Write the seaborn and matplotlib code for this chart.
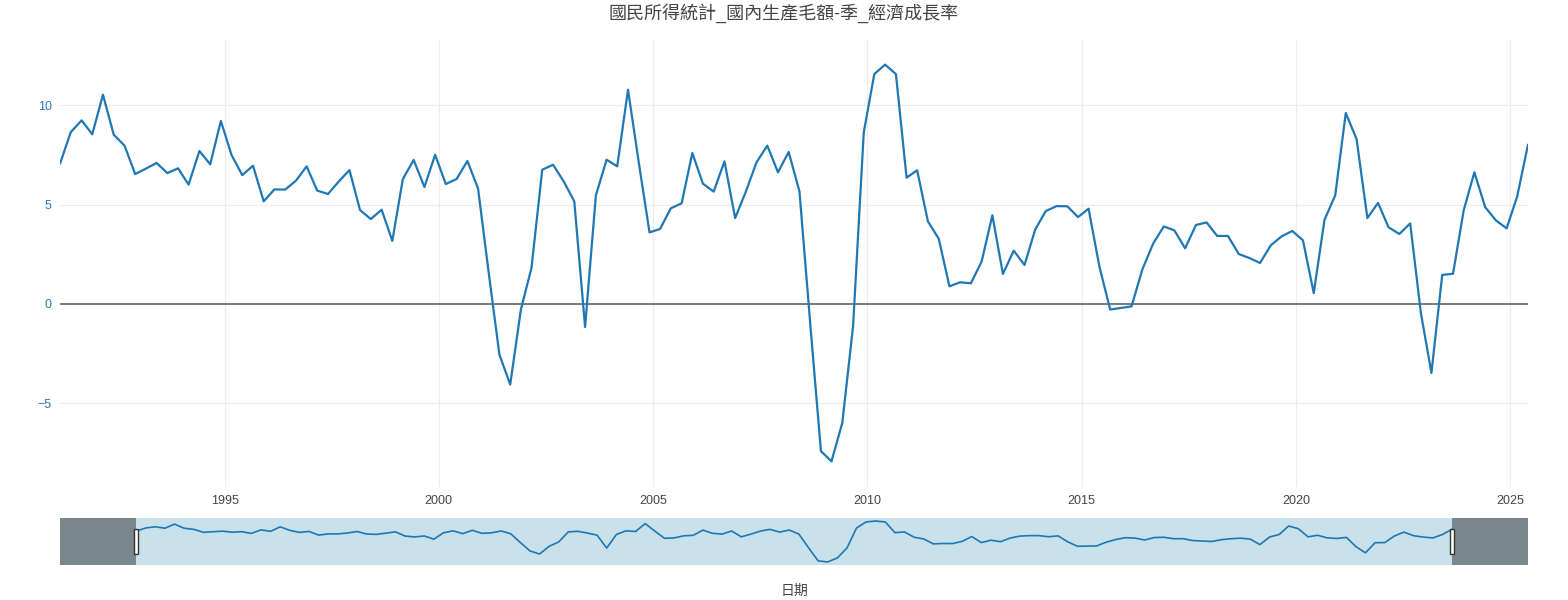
import pandas as pd
import numpy as np
import seaborn as sns
import matplotlib
matplotlib.use("Agg")
import matplotlib.pyplot as plt
import matplotlib.dates as mdates
from matplotlib.patches import Rectangle
from matplotlib.transforms import blended_transform_factory

# quarterly growth rate (%), 1991Q1 .. 2025Q2
growth = [
    7.05, 8.64, 9.23, 8.53,     # 1991
    10.52, 8.51, 7.96, 6.53,    # 1992
    6.80, 7.09, 6.58, 6.82,     # 1993
    6.00, 7.69, 7.02, 9.20,     # 1994
    7.50, 6.48, 6.95, 5.16,     # 1995
    5.76, 5.75, 6.20, 6.92,     # 1996
    5.70, 5.53, 6.16, 6.73,     # 1997
    4.72, 4.27, 4.74, 3.17,     # 1998
    6.28, 7.24, 5.88, 7.50,     # 1999
    6.03, 6.28, 7.19, 5.80,     # 2000
    1.60, -2.55, -4.05, -0.28,  # 2001
    1.81, 6.75, 7.00, 6.16,     # 2002
    5.16, -1.16, 5.46, 7.25,    # 2003
    6.92, 10.77, 7.10, 3.60,    # 2004
    3.77, 4.81, 5.06, 7.59,     # 2005
    6.05, 5.65, 7.17, 4.32,     # 2006
    5.63, 7.12, 7.96, 6.62,     # 2007
    7.64, 5.66, -1.00, -7.40,   # 2008
    -7.91, -5.98, -1.12, 8.63,  # 2009
    11.56, 12.03, 11.56, 6.35,  # 2010
    6.72, 4.15, 3.28, 0.89,     # 2011
    1.09, 1.04, 2.14, 4.46,     # 2012
    1.51, 2.68, 1.96, 3.74,     # 2013
    4.67, 4.92, 4.91, 4.37,     # 2014
    4.79, 1.89, -0.28, -0.20,   # 2015
    -0.12, 1.73, 3.03, 3.90,    # 2016
    3.70, 2.80, 3.97, 4.10,     # 2017
    3.42, 3.42, 2.51, 2.31,     # 2018
    2.06, 2.95, 3.40, 3.67,     # 2019
    3.20, 0.55, 4.24, 5.46,     # 2020
    9.60, 8.29, 4.32, 5.08,     # 2021
    3.85, 3.52, 4.05, -0.45,    # 2022
    -3.47, 1.46, 1.52, 4.71,    # 2023
    6.62, 4.87, 4.20, 3.80,     # 2024
    5.41, 8.01,                 # 2025
]
dates = pd.date_range("1991-03-01", periods=len(growth), freq="3MS")
yticks = [-5, 0, 5, 10]
ytick_labels = ["\u22125", "0", "5", "10"]

title = "國民所得統計_國內生產毛額-季_經濟成長率"
xlabel = "日期"

df = pd.DataFrame({"date": dates, "value": growth})

sns.set_theme(style="whitegrid")
plt.rcParams["font.family"] = ["Liberation Sans", "Noto Sans CJK TC", "DejaVu Sans"]

W, H = 1568, 600
fig = plt.figure(figsize=(W / 100, H / 100), dpi=100)
fig.patch.set_facecolor("white")

line_c = "#1f77b4"
text_c = "#444444"

# main plot
ax = fig.add_axes([60 / W, 1 - 487 / H, 1468 / W, 447 / H])
sns.lineplot(data=df, x="date", y="value", ax=ax, color=line_c, linewidth=1.6)
ax.axhline(0, color="#707070", lw=1.3, zorder=1)
ax.set_xlim(dates[0], dates[-1])
ax.set_ylim(-9.2, 13.27)
ax.set_yticks(yticks)
ax.set_yticklabels(ytick_labels)
ax.xaxis.set_major_locator(mdates.YearLocator(5))
ax.xaxis.set_major_formatter(mdates.DateFormatter("%Y"))
ax.grid(True, color="#ececec", lw=0.8)
ax.set_facecolor("white")
for s in ax.spines.values():
    s.set_visible(False)
ax.tick_params(axis="y", length=0, pad=6, labelsize=9, labelcolor="#2a78b5")
ax.tick_params(axis="x", length=0, pad=6, labelsize=9, labelcolor=text_c)
ax.set_xlabel("")
ax.set_ylabel("")

# range slider
ax2 = fig.add_axes([60 / W, 1 - 565 / H, 1468 / W, 47 / H])
sns.lineplot(data=df, x="date", y="value", ax=ax2, color=line_c, linewidth=1.2)
span = dates[-1] - dates[0]
pad = span * (76 / 1316)
lo, hi = dates[0] - pad, dates[-1] + pad
ax2.set_xlim(lo, hi)
ax2.set_ylim(-9.4, 13.5)
ax2.set_facecolor("#c8e1ea")
ax2.axvspan(lo, dates[0], color="#7a878d", zorder=3, lw=0)
ax2.axvspan(dates[-1], hi, color="#7a878d", zorder=3, lw=0)
ax2.grid(False)
ax2.set_xticks([])
ax2.set_yticks([])
ax2.set_xlabel("")
ax2.set_ylabel("")
for s in ax2.spines.values():
    s.set_visible(False)
tr = blended_transform_factory(ax2.transData, ax2.transAxes)
hw = pd.Timedelta(days=40)
for d in (dates[0], dates[-1]):
    ax2.add_patch(Rectangle((mdates.date2num(d - hw / 2), 0.24), hw.days, 0.52,
                            transform=tr, facecolor="white", edgecolor="#333333",
                            lw=1.0, zorder=5, clip_on=False))

fig.text(0.5, 1 - 13 / H, title, ha="center", va="center", fontsize=13, color=text_c)
fig.text(794 / W, 1 - 591 / H, xlabel, ha="center", va="center", fontsize=10, color=text_c)

fig.savefig("out.png", dpi=100, facecolor="white")
